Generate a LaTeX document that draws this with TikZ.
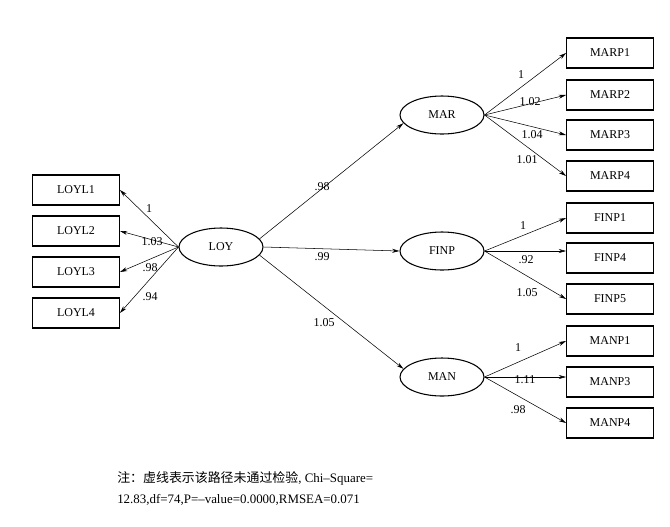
\documentclass[tikz,border=0pt]{standalone}
\usepackage{fontspec}
\setmainfont{Liberation Serif}
\newfontfamily\cjk{Noto Sans CJK SC}
\usetikzlibrary{arrows.meta,shapes.geometric}
\begin{document}
\begin{tikzpicture}[x=0.75pt,y=-0.75pt,
  font=\fontsize{9}{10}\selectfont,
  obs/.style={draw,line width=0.9pt,minimum width=65pt,minimum height=22.5pt,inner sep=0pt},
  lat/.style={draw,ellipse,line width=0.8pt,minimum width=63pt,minimum height=28.5pt,inner sep=0pt},
  arr/.style={line width=0.4pt,-{Stealth[length=5.5pt,width=3pt]}},
  lbl/.style={inner sep=0pt},
  notestyle/.style={inner sep=0pt,anchor=west,font=\fontsize{9.7}{11}\selectfont}]
\useasboundingbox (0,0) rectangle (670,526);
% latent
\node[lat] (LOY) at (221,247) {LOY};
\node[lat] (MAR) at (442,115) {MAR};
\node[lat] (FINP) at (442,251) {FINP};
\node[lat] (MAN) at (442,377) {MAN};
% observed
\node[obs] (LOYL1) at (76,190) {LOYL1};
\node[obs] (LOYL2) at (76,231) {LOYL2};
\node[obs] (LOYL3) at (76,272) {LOYL3};
\node[obs] (LOYL4) at (76,313) {LOYL4};
\node[obs] (MARP1) at (610,53) {MARP1};
\node[obs] (MARP2) at (610,95) {MARP2};
\node[obs] (MARP3) at (610,135) {MARP3};
\node[obs] (MARP4) at (610,176) {MARP4};
\node[obs] (FINP1) at (610,218) {FINP1};
\node[obs] (FINP4) at (610,258) {FINP4};
\node[obs] (FINP5) at (610,299) {FINP5};
\node[obs] (MANP1) at (610,341) {MANP1};
\node[obs] (MANP3) at (610,382) {MANP3};
\node[obs] (MANP4) at (610,423) {MANP4};
% LOY loadings
\draw[arr] (LOY.west) -- (LOYL1.east);
\draw[arr] (LOY.west) -- (LOYL2.east);
\draw[arr] (LOY.west) -- (LOYL3.east);
\draw[arr] (LOY.west) -- (LOYL4.east);
% structural
\draw[arr] (LOY.12) -- (MAR.192);
\draw[arr] (LOY.east) -- (FINP.west);
\draw[arr] (LOY.-12) -- (MAN.168);
% MAR
\draw[arr] (MAR.east) -- (MARP1.west);
\draw[arr] (MAR.east) -- (MARP2.west);
\draw[arr] (MAR.east) -- (MARP3.west);
\draw[arr] (MAR.east) -- (MARP4.west);
% FINP
\draw[arr] (FINP.east) -- (FINP1.west);
\draw[arr] (FINP.east) -- (FINP.east -| FINP4.west);
\draw[arr] (FINP.east) -- (FINP5.west);
% MAN
\draw[arr] (MAN.east) -- (MANP1.west);
\draw[arr] (MAN.east) -- (MAN.east -| MANP3.west);
\draw[arr] (MAN.east) -- (MANP4.west);
% labels
\node[lbl] (a1) at (149,209) {1};
\node[lbl] (a2) at (152,242) {1.03};
\node[lbl] (a3) at (150,268) {.98};
\node[lbl] (a4) at (150,297) {.94};
\node[lbl] (s1) at (322,187) {.98};
\node[lbl] (s2) at (322,257) {.99};
\node[lbl] (s3) at (324,323) {1.05};
\node[lbl] (m1) at (521,75) {1};
\node[lbl] (m2) at (530,102) {1.02};
\node[lbl] (m3) at (532,135) {1.04};
\node[lbl] (m4) at (527,160) {1.01};
\node[lbl] (f1) at (523,226) {1};
\node[lbl] (f2) at (526,260) {.92};
\node[lbl] (f3) at (527,293) {1.05};
\node[lbl] (n1) at (518,348) {1};
\node[lbl] (n2) at (525,380) {1.11};
\node[lbl] (n3) at (518,410) {.98};
% note
\node[notestyle] (note1) at (117,478) {{\cjk 注：虚线表示该路径未通过检验}, Chi–Square=};
\node[notestyle] (note2) at (117,500) {12.83,df=74,P=–value=0.0000,RMSEA=0.071};
\end{tikzpicture}
\end{document}
